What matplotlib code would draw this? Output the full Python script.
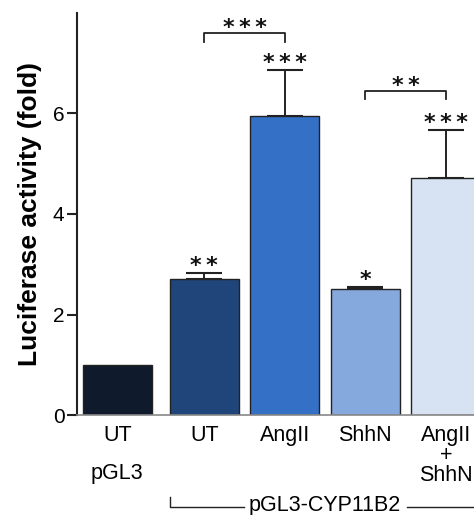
import numpy as np
import matplotlib
matplotlib.use('Agg')
from matplotlib import pyplot as plt
from matplotlib import transforms

plt.rcParams['font.family'] = ['Liberation Sans', 'DejaVu Sans']

labels = ['UT', 'UT', 'AngII', 'ShhN', 'AngII\n+\nShhN']
values = [1.0, 2.71, 5.94, 2.50, 4.71]
errors = [0.0, 0.12, 0.93, 0.05, 0.97]
stars = ['', '**', '***', '*', '***']
colors = ['#0f1a2d', '#20457a', '#3570c7', '#86a9dd', '#d7e2f3']
# pairwise comparisons: (bar a, bar b, label)
brackets = [(1, 2, '***'), (3, 4, '**')]

x = np.arange(len(values)).astype(float)
x[0] -= 0.08  # small gap between the pGL3 control and the CYP11B2 group

fig = plt.figure(figsize=(4.74, 5.15), dpi=100)
ax = fig.add_axes([0.1624, 0.194, 0.88, 0.781])

ax.bar(x, values, width=0.86, color=colors, edgecolor='#222222', linewidth=1.0, zorder=2)
ax.errorbar(x[1:], values[1:], yerr=[np.zeros(4), errors[1:]], fmt='none',
            ecolor='#222222', elinewidth=1.4, capsize=13, capthick=1.5, zorder=1)

def star_text(xc, y, s):
    ax.text(xc, y, '\u2009'.join(s), ha='center', va='baseline', fontsize=16,
            family='DejaVu Sans', fontweight='bold', color='#111111')

for i, s in enumerate(stars):
    if s:
        star_text(x[i], values[i] + errors[i] + 0.02, s)

for a, b, s in brackets:
    if a == 1:
        top = values[b] + errors[b] + 0.72
    else:
        top = values[b] + errors[b] + 0.76
    ax.plot([x[a], x[a], x[b], x[b]], [top - 0.16, top, top, top - 0.16],
            color='#222222', lw=1.3, clip_on=False)
    star_text((x[a] + x[b]) / 2, top - 0.02, s)

ax.set_xlim(-0.58, 4.6)
ax.set_ylim(0, 8)
ax.set_yticks([0, 2, 4, 6])
ax.tick_params(axis='y', labelsize=15, length=7, width=1.5, pad=2, color='#222222')
ax.set_xticks(x)
ax.set_xticklabels(labels, fontsize=15.5, linespacing=0.95, va='top')
ax.tick_params(axis='x', length=0, pad=7)
ax.spines['top'].set_visible(False)
ax.spines['right'].set_visible(False)
ax.spines['left'].set_linewidth(1.5)
ax.spines['left'].set_color('#222222')
ax.spines['bottom'].set_color('#888888')
ax.spines['bottom'].set_linewidth(1.2)
ax.set_ylabel('Luciferase activity (fold)', fontsize=19, fontweight='bold', labelpad=8)

# group labels under the axis
trans = transforms.blended_transform_factory(ax.transData, ax.transAxes)
ax.text(x[0], -0.145, 'pGL3', transform=trans, ha='center', va='center', fontsize=15.5)
ax.text(2.5, -0.224, 'pGL3-CYP11B2', transform=trans, ha='center', va='center', fontsize=15.5)
ax.plot([x[1] - 0.43, x[1] - 0.43, 1.5], [-0.204, -0.229, -0.229], transform=trans,
        color='#222222', lw=1.0, clip_on=False)
ax.plot([3.52, 4.8], [-0.229, -0.229], transform=trans, color='#222222', lw=1.0, clip_on=False)

fig.savefig('out.png', dpi=100)
